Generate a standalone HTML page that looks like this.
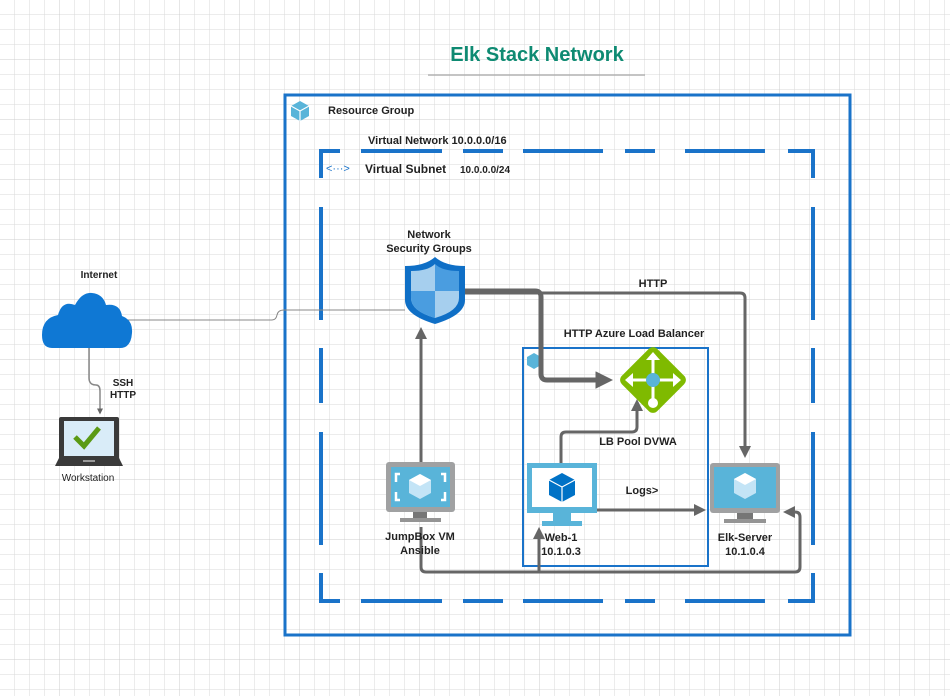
<!DOCTYPE html>
<html><head><meta charset="utf-8"><style>
html,body{margin:0;padding:0;background:#fff;}
svg{display:block;font-family:"Liberation Sans",sans-serif;}
</style></head><body>
<svg width="950" height="696" viewBox="0 0 950 696" xmlns="http://www.w3.org/2000/svg">
<defs>
<pattern id="g" width="15" height="15" patternUnits="userSpaceOnUse"><path d="M15 0V15H0" fill="none" stroke="#dadada" stroke-width="1"/></pattern>
<pattern id="G" width="60" height="60" patternUnits="userSpaceOnUse"><path d="M60 0V60H0" fill="none" stroke="#cccccc" stroke-width="1"/></pattern>
<marker id="a" markerWidth="4" markerHeight="4" refX="3" refY="2" orient="auto" markerUnits="strokeWidth"><path d="M0,0L4,2L0,4z" fill="#666"/></marker>
<marker id="as" markerWidth="3.5" markerHeight="3.5" refX="2.5" refY="1.75" orient="auto" markerUnits="strokeWidth"><path d="M0,0L3.5,1.75L0,3.5z" fill="#666"/></marker>
</defs>
<rect width="950" height="696" fill="url(#g)"/>
<rect width="950" height="696" fill="url(#G)"/>

<text x="537" y="61" text-anchor="middle" font-size="20" font-weight="bold" fill="#0e8a72">Elk Stack Network</text>
<line x1="428" y1="75" x2="645" y2="75" stroke="#b0b0b0" stroke-width="1.5"/>

<rect x="285" y="95" width="565" height="540" fill="none" stroke="#1a73c9" stroke-width="3"/>
<g transform="translate(290,99)"><path d="M10 2L19 7V17L10 22L1 17V7Z" fill="#59b4d9"/><path d="M1 7L10 12L19 7M10 12V22" fill="none" stroke="#fff" stroke-width="1.2"/></g>
<text x="328" y="114" font-size="11" font-weight="bold" fill="#222">Resource Group</text>
<text x="368" y="144" font-size="11" font-weight="bold" fill="#222">Virtual Network 10.0.0.0/16</text>

<g stroke="#1a73c9" stroke-width="4" fill="none">
<path d="M321 178V151H340M361 151H442M463 151H503M523 151H603M625 151H655M685 151H765M788 151H813V178"/>
<path d="M321 207V320M321 348V403M321 432V545M321 573V601H340M361 601H442M463 601H503M523 601H603M625 601H655M685 601H765M788 601H813V573"/>
<path d="M813 207V320M813 348V403M813 432V545"/>
</g>
<text x="326" y="172" font-size="11" fill="#1a73c9">&lt;···&gt;</text>
<text x="365" y="173" font-size="12" font-weight="bold" fill="#222">Virtual Subnet</text>
<text x="460" y="173" font-size="10" font-weight="bold" fill="#222">10.0.0.0/24</text>

<rect x="523" y="348" width="185" height="218" fill="none" stroke="#1a73c9" stroke-width="2"/>
<g transform="translate(526,352)"><path d="M8 1L15 5V13L8 17L1 13V5Z" fill="#59b4d9"/></g>
<text x="634" y="337" text-anchor="middle" font-size="11" font-weight="bold" fill="#222">HTTP Azure Load Balancer</text>

<path d="M128 320H272Q276 320 277 315Q278 310 284 310H405" fill="none" stroke="#888" stroke-width="1"/>
<path d="M89 348V378Q89 385 96 385Q100 385 100 391V413" fill="none" stroke="#888" stroke-width="1.5" marker-end="url(#a)"/>

<g fill="none" stroke="#666" stroke-linejoin="round">
<path d="M460 293H740Q745 293 745 298V455" stroke-width="3" marker-end="url(#a)"/>
<path d="M462 291H535Q541 291 541 297V374Q541 380 547 380H608" stroke-width="5" marker-end="url(#as)"/>
<path d="M421 462V330" stroke-width="3" marker-end="url(#a)"/>
<path d="M561 463V437Q561 432 566 432H632Q637 432 637 427V402" stroke-width="3" marker-end="url(#a)"/>
<path d="M597 510H703" stroke-width="3" marker-end="url(#a)"/>
<path d="M421 527V567Q421 572 426 572H795Q800 572 800 567V517Q800 512 795 512H786" stroke-width="3" marker-end="url(#a)"/>
<path d="M539 572V530" stroke-width="3" marker-end="url(#a)"/>
</g>

<path d="M405 266Q425 266 435 257Q445 266 465 266V300Q465 315 435 324Q405 315 405 300Z" fill="#0f6fc6"/>
<path d="M411 271Q428 271 435 264V318Q411 311 411 298Z" fill="#a6cfee"/>
<path d="M435 264Q442 271 459 271V291H435Z" fill="#4a9de0"/>
<path d="M411 291H435V318Q411 311 411 298Z" fill="#4a9de0"/>
<path d="M435 291H459V298Q459 311 435 318Z" fill="#a6cfee"/>
<text x="429" y="238" text-anchor="middle" font-size="11" font-weight="bold" fill="#222">Network</text>
<text x="429" y="252" text-anchor="middle" font-size="11" font-weight="bold" fill="#222">Security Groups</text>
<text x="653" y="287" text-anchor="middle" font-size="11" font-weight="bold" fill="#222">HTTP</text>

<rect x="628" y="355" width="50" height="50" rx="6" transform="rotate(45 653 380)" fill="#7fba00"/>
<g stroke="#fff" stroke-width="3" fill="#fff">
<path d="M630 380H676M653 357V403" fill="none"/>
<path d="M653 352L646 360H660Z M625 380L633 373V387Z M681 380L673 373V387Z" stroke="none"/>
<circle cx="653" cy="403" r="5" stroke="none"/>
</g>
<circle cx="653" cy="380" r="7" fill="#59b4d9"/>
<text x="638" y="445" text-anchor="middle" font-size="11" font-weight="bold" fill="#222">LB Pool DVWA</text>
<text x="642" y="494" text-anchor="middle" font-size="11" font-weight="bold" fill="#222">Logs&gt;</text>

<rect x="386" y="462" width="69" height="50" rx="3" fill="#a0a1a2"/>
<rect x="391" y="467" width="59" height="40" fill="#59b4d9"/>
<path d="M400 474h-4v8M441 474h4v8M400 500h-4v-8M441 500h4v-8" stroke="#fff" stroke-width="2.5" fill="none"/>
<path d="M420 474L431 480V493L420 499L409 493V480Z" fill="#c3e4f6"/><path d="M409 480L420 486L431 480L420 474Z" fill="#fff"/>
<rect x="413" y="512" width="14" height="6" fill="#767676"/><rect x="400" y="518" width="41" height="4" fill="#949494"/>
<text x="420" y="540" text-anchor="middle" font-size="11" font-weight="bold" fill="#222">JumpBox VM</text>
<text x="420" y="554" text-anchor="middle" font-size="11" font-weight="bold" fill="#222">Ansible</text>

<rect x="527" y="463" width="70" height="50" fill="#59b4d9"/>
<rect x="532" y="468" width="60" height="39" fill="#fff"/>
<path d="M562 473L575 480V495L562 502L549 495V480Z" fill="#0072c6"/><path d="M549 480L562 487L575 480M562 487V502" stroke="#fff" stroke-width="1.2" fill="none"/>
<rect x="553" y="513" width="18" height="8" fill="#59b4d9"/><rect x="542" y="521" width="40" height="5" fill="#59b4d9"/>
<text x="561" y="541" text-anchor="middle" font-size="11" font-weight="bold" fill="#222">Web-1</text>
<text x="561" y="555" text-anchor="middle" font-size="11" font-weight="bold" fill="#222">10.1.0.3</text>

<rect x="710" y="463" width="70" height="50" rx="3" fill="#a0a1a2"/>
<rect x="714" y="467" width="62" height="41" fill="#59b4d9"/>
<path d="M745 473L756 479V493L745 499L734 493V479Z" fill="#c3e4f6"/><path d="M734 479L745 485L756 479L745 473Z" fill="#fff"/>
<rect x="737" y="513" width="16" height="6" fill="#767676"/><rect x="724" y="519" width="42" height="4" fill="#949494"/>
<text x="745" y="541" text-anchor="middle" font-size="11" font-weight="bold" fill="#222">Elk-Server</text>
<text x="745" y="555" text-anchor="middle" font-size="11" font-weight="bold" fill="#222">10.1.0.4</text>

<text x="99" y="278" text-anchor="middle" font-size="10" font-weight="bold" fill="#222">Internet</text>
<path d="M52 348Q42 348 42 335Q42 318 58 315Q62 300 75 305Q82 292 92 293Q103 294 106 305Q120 303 122 316Q133 320 132 333Q131 348 120 348Z" fill="#0f78d4"/>

<text x="123" y="386" text-anchor="middle" font-size="10" font-weight="bold" fill="#222">SSH</text>
<text x="123" y="398" text-anchor="middle" font-size="10" font-weight="bold" fill="#222">HTTP</text>
<path d="M61 417H117Q119 417 119 419V458H59V419Q59 417 61 417Z" fill="#3a3a3a"/>
<rect x="64" y="421" width="50" height="35" fill="#d9ecf8"/>
<path d="M75 437L84 446L99 428" stroke="#5b9a14" stroke-width="5" fill="none"/>
<path d="M59 458H119L123 466H55Z" fill="#3a3a3a"/>
<rect x="83" y="460" width="12" height="2" fill="#999"/>
<text x="88" y="481" text-anchor="middle" font-size="10" fill="#222">Workstation</text>
</svg>
</body></html>
